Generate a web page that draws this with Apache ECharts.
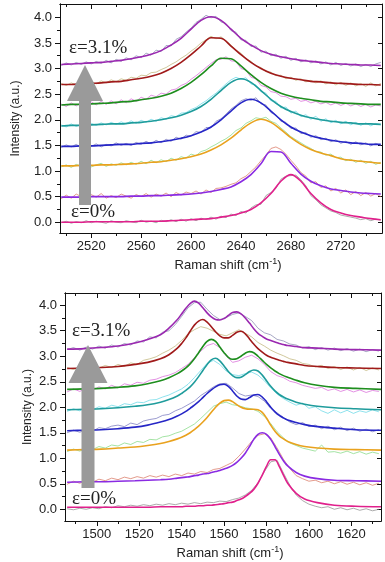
<!DOCTYPE html>
<html>
<head>
<meta charset="utf-8">
<script src="https://cdn.jsdelivr.net/npm/echarts@6/dist/echarts.min.js"></script>
<style>
html, body { margin: 0; padding: 0; background: #fff; }
#chart { width: 385px; height: 562px; }
</style>
</head>
<body>
<div id="chart"></div>
<script>
// ---- 2D band (upper panel) ----
var x2dFit = [2496,2504,2512,2520,2528,2536,2544,2552,2560,2568,2576,2584,2592,2600,2608,2616,2624,2632,2640,2648,2656,2664,2672,2680,2688,2696,2704,2712,2720,2728,2736,2744,2752];
var x2dRaw = [2496,2500,2504,2508,2512,2516,2520,2524,2528,2532,2536,2540,2544,2548,2552,2556,2560,2564,2568,2572,2576,2580,2584,2588,2592,2596,2600,2604,2608,2612,2616,2620,2624,2628,2632,2636,2640,2644,2648,2652,2656,2660,2664,2668,2672,2676,2680,2684,2688,2692,2696,2700,2704,2708,2712,2716,2720,2724,2728,2732,2736,2740,2744,2748,2752];

var fit2d0 = [0.00,0.00,0.00,0.01,0.01,0.01,0.01,0.01,0.02,0.02,0.02,0.03,0.04,0.05,0.06,0.07,0.10,0.13,0.18,0.25,0.38,0.56,0.80,0.93,0.80,0.56,0.38,0.25,0.18,0.13,0.10,0.07,0.05];
var fit2d1 = [0.49,0.49,0.49,0.50,0.50,0.50,0.50,0.51,0.51,0.52,0.52,0.53,0.54,0.55,0.57,0.60,0.64,0.69,0.79,0.93,1.14,1.38,1.37,1.15,0.94,0.80,0.71,0.65,0.62,0.59,0.57,0.56,0.55];
var fit2d2 = [1.10,1.10,1.11,1.11,1.12,1.12,1.13,1.14,1.15,1.17,1.18,1.21,1.24,1.28,1.33,1.41,1.51,1.64,1.80,1.94,2.01,1.95,1.81,1.65,1.52,1.42,1.35,1.30,1.24,1.21,1.19,1.17,1.15];
var fit2d3 = [1.48,1.48,1.49,1.49,1.50,1.51,1.52,1.52,1.54,1.55,1.57,1.60,1.64,1.69,1.76,1.86,2.00,2.17,2.33,2.40,2.33,2.17,2.00,1.86,1.76,1.69,1.64,1.60,1.57,1.55,1.54,1.52,1.52];
var fit2d4 = [1.88,1.89,1.89,1.90,1.91,1.92,1.92,1.94,1.95,1.97,2.00,2.04,2.09,2.16,2.26,2.40,2.57,2.73,2.80,2.73,2.57,2.40,2.26,2.16,2.09,2.04,2.00,1.97,1.95,1.94,1.92,1.92,1.91];
var fit2d5 = [2.29,2.30,2.30,2.31,2.32,2.33,2.35,2.36,2.39,2.42,2.46,2.52,2.61,2.73,2.88,3.05,3.20,3.19,3.05,2.88,2.73,2.61,2.52,2.46,2.42,2.39,2.36,2.35,2.33,2.32,2.31,2.30,2.30];
var fit2d6 = [2.69,2.69,2.70,2.71,2.72,2.74,2.75,2.78,2.81,2.85,2.91,3.00,3.12,3.27,3.44,3.60,3.59,3.44,3.27,3.12,3.00,2.91,2.85,2.81,2.78,2.75,2.74,2.72,2.71,2.70,2.69,2.69,2.68];
var fit2d7 = [3.08,3.09,3.10,3.11,3.12,3.14,3.16,3.19,3.23,3.28,3.35,3.46,3.59,3.77,3.94,4.01,3.94,3.77,3.59,3.46,3.35,3.28,3.23,3.19,3.16,3.14,3.12,3.10,3.09,3.08,3.07,3.07,3.06];

var raw2d0 = [-0.01,0.02,-0.02,0.01,-0.01,0.03,-0.01,0.02,0.00,-0.02,0.03,0.00,-0.01,0.03,0.01,-0.01,0.04,0.00,0.02,-0.01,0.04,0.01,0.05,0.01,0.06,0.02,0.07,0.03,0.08,0.05,0.10,0.06,0.12,0.09,0.16,0.13,0.21,0.18,0.28,0.34,0.35,0.52,0.58,0.66,0.84,0.90,0.91,0.92,0.83,0.71,0.52,0.44,0.34,0.28,0.22,0.19,0.14,0.12,0.10,0.08,0.05,0.07,0.03,0.06,0.04];
var raw2d1 = [0.46,0.53,0.47,0.55,0.50,0.45,0.54,0.49,0.56,0.47,0.52,0.48,0.55,0.51,0.47,0.54,0.50,0.56,0.49,0.55,0.51,0.57,0.50,0.58,0.53,0.59,0.56,0.61,0.55,0.63,0.58,0.66,0.67,0.70,0.74,0.77,0.85,0.90,0.99,1.08,1.20,1.31,1.44,1.47,1.42,1.33,1.21,1.10,0.97,0.90,0.77,0.79,0.68,0.71,0.61,0.66,0.57,0.63,0.54,0.60,0.52,0.58,0.51,0.56,0.50];
var raw2d2 = [1.08,1.12,1.07,1.13,1.09,1.14,1.08,1.12,1.15,1.09,1.14,1.11,1.16,1.12,1.17,1.13,1.19,1.14,1.21,1.16,1.22,1.18,1.25,1.21,1.28,1.25,1.33,1.30,1.38,1.41,1.47,1.52,1.58,1.63,1.70,1.79,1.84,1.93,1.98,2.04,2.02,2.05,1.97,1.93,1.84,1.76,1.67,1.61,1.55,1.49,1.44,1.38,1.37,1.31,1.33,1.26,1.27,1.20,1.23,1.17,1.21,1.15,1.19,1.13,1.17];
var raw2d3 = [1.46,1.51,1.47,1.52,1.46,1.51,1.48,1.53,1.47,1.52,1.49,1.55,1.50,1.54,1.50,1.56,1.52,1.58,1.53,1.60,1.55,1.62,1.58,1.66,1.62,1.70,1.68,1.77,1.75,1.85,1.84,1.97,2.02,2.11,2.21,2.28,2.37,2.41,2.38,2.43,2.31,2.29,2.14,2.10,1.97,1.95,1.83,1.84,1.73,1.75,1.66,1.69,1.61,1.64,1.57,1.61,1.54,1.58,1.52,1.57,1.51,1.55,1.49,1.54,1.50];
var raw2d4 = [1.90,1.86,1.92,1.87,1.91,1.88,1.93,1.89,1.94,1.90,1.95,1.91,1.96,1.92,1.98,1.93,1.99,1.95,2.01,1.97,2.04,2.01,2.08,2.06,2.13,2.14,2.20,2.24,2.31,2.37,2.45,2.52,2.61,2.70,2.78,2.83,2.79,2.82,2.70,2.68,2.55,2.52,2.37,2.36,2.23,2.25,2.13,2.17,2.06,2.10,2.01,2.07,1.97,2.02,1.94,1.99,1.92,1.97,1.90,1.95,1.89,1.94,1.88,1.93,1.90];
var raw2d5 = [2.31,2.26,2.33,2.27,2.34,2.28,2.35,2.29,2.36,2.30,2.37,2.31,2.39,2.33,2.41,2.36,2.44,2.40,2.48,2.45,2.52,2.50,2.58,2.60,2.67,2.71,2.79,2.86,2.94,3.02,3.10,3.17,3.18,3.23,3.15,3.14,3.00,2.97,2.83,2.80,2.67,2.64,2.55,2.53,2.46,2.45,2.40,2.42,2.36,2.38,2.33,2.36,2.31,2.34,2.29,2.33,2.28,2.32,2.27,2.31,2.26,2.30,2.25,2.29,2.27];
var raw2d6 = [2.71,2.67,2.72,2.68,2.73,2.69,2.74,2.70,2.76,2.72,2.78,2.74,2.80,2.77,2.83,2.81,2.87,2.86,2.92,2.93,2.98,3.02,3.08,3.13,3.20,3.26,3.34,3.41,3.50,3.56,3.63,3.58,3.62,3.54,3.46,3.36,3.30,3.19,3.14,3.05,3.02,2.94,2.93,2.86,2.87,2.80,2.83,2.77,2.80,2.74,2.77,2.72,2.76,2.70,2.74,2.68,2.73,2.67,2.72,2.66,2.71,2.65,2.72,2.66,2.71];
var raw2d7 = [3.06,3.11,3.07,3.12,3.08,3.13,3.09,3.14,3.10,3.16,3.11,3.18,3.14,3.21,3.17,3.25,3.21,3.30,3.26,3.36,3.33,3.45,3.44,3.57,3.62,3.71,3.79,3.90,3.96,4.04,3.99,4.02,3.91,3.88,3.74,3.71,3.56,3.55,3.43,3.44,3.32,3.34,3.25,3.28,3.20,3.24,3.16,3.20,3.13,3.17,3.11,3.15,3.09,3.13,3.07,3.12,3.06,3.10,3.05,3.09,3.04,3.08,3.04,3.09,3.12];

// ---- G band (lower panel) ----
var xGFit = [1486,1494,1502,1510,1518,1524,1530,1534,1538,1540,1542,1544,1546,1548,1550,1552,1554,1556,1558,1560,1562,1564,1566,1568,1570,1572,1574,1576,1578,1580,1582,1584,1586,1588,1590,1594,1598,1604,1612,1622,1634];
var xGRaw = [1486,1489,1492,1495,1498,1501,1504,1507,1510,1513,1516,1519,1522,1525,1528,1531,1534,1537,1540,1543,1546,1549,1552,1555,1558,1561,1564,1567,1570,1573,1576,1579,1582,1585,1588,1591,1594,1597,1600,1603,1606,1609,1612,1615,1618,1621,1624,1627,1630,1633];

var fitG0 = [0.04,0.04,0.04,0.04,0.04,0.04,0.05,0.05,0.05,0.05,0.06,0.06,0.06,0.07,0.07,0.08,0.08,0.09,0.10,0.11,0.13,0.14,0.17,0.20,0.25,0.31,0.39,0.51,0.67,0.84,0.97,0.97,0.84,0.67,0.51,0.31,0.20,0.13,0.08,0.06,0.05];
var fitG1 = [0.53,0.54,0.54,0.55,0.56,0.57,0.58,0.59,0.61,0.62,0.63,0.64,0.66,0.67,0.69,0.70,0.72,0.74,0.76,0.79,0.82,0.86,0.92,1.00,1.10,1.23,1.37,1.47,1.50,1.47,1.37,1.23,1.08,0.95,0.85,0.72,0.65,0.60,0.57,0.56,0.55];
var fitG2 = [1.16,1.17,1.18,1.20,1.22,1.25,1.29,1.33,1.38,1.41,1.45,1.50,1.56,1.63,1.71,1.80,1.90,2.00,2.08,2.13,2.14,2.11,2.05,2.00,1.97,1.96,1.96,1.95,1.90,1.79,1.65,1.53,1.44,1.38,1.33,1.27,1.23,1.20,1.18,1.17,1.16];
var fitG3 = [1.54,1.55,1.56,1.58,1.61,1.65,1.71,1.76,1.83,1.87,1.92,1.98,2.04,2.11,2.19,2.27,2.34,2.40,2.44,2.45,2.41,2.32,2.22,2.16,2.15,2.19,2.24,2.25,2.20,2.11,2.00,1.91,1.84,1.79,1.75,1.70,1.66,1.62,1.59,1.56,1.55];
var fitG4 = [1.95,1.96,1.97,1.99,2.02,2.05,2.10,2.15,2.22,2.27,2.33,2.40,2.49,2.60,2.72,2.84,2.93,2.96,2.91,2.81,2.70,2.62,2.58,2.59,2.64,2.70,2.73,2.71,2.63,2.52,2.41,2.32,2.25,2.20,2.16,2.10,2.06,2.02,1.99,1.97,1.95];
var fitG5 = [2.35,2.36,2.37,2.39,2.42,2.46,2.52,2.58,2.66,2.71,2.77,2.85,2.95,3.07,3.19,3.29,3.33,3.29,3.18,3.07,2.98,2.94,2.95,3.00,3.06,3.09,3.07,3.00,2.92,2.84,2.77,2.71,2.66,2.62,2.59,2.53,2.48,2.43,2.39,2.37,2.35];
var fitG6 = [2.76,2.77,2.78,2.80,2.84,2.88,2.95,3.03,3.16,3.25,3.36,3.49,3.61,3.69,3.72,3.67,3.58,3.48,3.40,3.36,3.36,3.41,3.47,3.49,3.44,3.34,3.24,3.15,3.08,3.02,2.98,2.95,2.92,2.90,2.88,2.85,2.82,2.80,2.78,2.77,2.76];
var fitG7 = [3.14,3.15,3.17,3.20,3.26,3.33,3.42,3.55,3.72,3.83,3.94,4.03,4.08,4.04,3.95,3.85,3.77,3.72,3.71,3.74,3.80,3.86,3.87,3.83,3.75,3.65,3.54,3.45,3.39,3.34,3.31,3.28,3.25,3.23,3.21,3.19,3.17,3.16,3.14,3.13,3.12];

var rawG0 = [0.01,-0.01,0.02,0.00,0.03,0.01,0.05,0.03,0.07,0.05,0.08,0.06,0.09,0.07,0.10,0.08,0.11,0.09,0.12,0.10,0.13,0.11,0.14,0.13,0.16,0.15,0.19,0.22,0.28,0.37,0.52,0.74,0.93,0.96,0.71,0.47,0.28,0.17,0.10,0.06,0.03,0.05,0.00,0.03,-0.01,0.02,-0.02,0.01,-0.03,0.00];
var rawG1 = [0.49,0.55,0.51,0.57,0.53,0.59,0.56,0.61,0.58,0.63,0.60,0.64,0.61,0.66,0.63,0.67,0.64,0.69,0.66,0.71,0.69,0.74,0.72,0.78,0.80,0.86,0.92,1.04,1.18,1.33,1.45,1.48,1.40,1.20,0.98,0.80,0.66,0.60,0.55,0.57,0.52,0.55,0.50,0.54,0.49,0.53,0.48,0.52,0.47,0.51];
var rawG2 = [1.13,1.18,1.14,1.20,1.17,1.23,1.20,1.26,1.24,1.30,1.27,1.33,1.31,1.37,1.36,1.42,1.44,1.49,1.53,1.60,1.67,1.78,1.90,2.02,2.07,2.10,2.05,2.03,1.99,1.97,1.92,1.82,1.68,1.52,1.40,1.30,1.25,1.20,1.17,1.14,1.26,1.12,1.13,1.10,1.14,1.09,1.13,1.08,1.12,1.09];
var rawG3 = [1.50,1.55,1.51,1.57,1.53,1.60,1.58,1.63,1.65,1.62,1.69,1.66,1.73,1.76,1.78,1.84,1.86,1.93,1.98,2.05,2.12,2.23,2.31,2.40,2.46,2.47,2.38,2.27,2.22,2.24,2.21,2.12,1.98,1.89,1.80,1.71,1.66,1.70,1.62,1.65,1.58,1.63,1.56,1.61,1.54,1.59,1.53,1.57,1.52,1.56];
var rawG4 = [1.92,1.97,1.93,1.99,1.95,2.01,1.98,2.04,2.01,2.07,2.05,2.10,2.09,2.14,2.15,2.20,2.24,2.30,2.36,2.45,2.58,2.72,2.86,2.92,2.84,2.71,2.64,2.62,2.66,2.69,2.63,2.52,2.38,2.26,2.17,2.10,2.04,2.08,1.98,2.01,1.93,1.88,1.95,1.89,1.94,1.88,1.93,1.90,1.95,1.91];
var rawG5 = [2.30,2.36,2.31,2.38,2.33,2.40,2.36,2.43,2.38,2.46,2.43,2.49,2.47,2.53,2.55,2.60,2.63,2.68,2.76,2.84,2.97,3.10,3.21,3.25,3.17,3.01,2.88,2.91,2.98,3.02,2.95,2.84,2.70,2.62,2.58,2.51,2.48,2.43,2.40,2.37,2.39,2.33,2.36,2.31,2.35,2.30,2.34,2.29,2.33,2.31];
var rawG6 = [2.78,2.74,2.79,2.75,2.81,2.77,2.82,2.78,2.84,2.80,2.87,2.84,2.92,2.95,2.99,3.06,3.12,3.20,3.31,3.44,3.52,3.58,3.55,3.49,3.43,3.40,3.46,3.52,3.45,3.38,3.27,3.20,3.12,3.06,3.01,2.95,2.92,2.86,2.84,2.79,2.82,2.76,2.80,2.74,2.79,2.73,2.78,2.72,2.77,2.73];
var rawG7 = [3.13,3.17,3.12,3.18,3.14,3.20,3.16,3.22,3.18,3.25,3.22,3.30,3.28,3.38,3.36,3.47,3.50,3.62,3.78,3.95,4.05,4.06,3.92,3.80,3.72,3.76,3.82,3.85,3.78,3.70,3.55,3.46,3.42,3.33,3.30,3.24,3.22,3.16,3.19,3.13,3.17,3.12,3.16,3.11,3.15,3.10,3.14,3.09,3.13,3.10];

// ---- ticks ----
var yMajor = [0, 0.5, 1, 1.5, 2, 2.5, 3, 3.5, 4];
var yMinor = [0.25, 0.75, 1.25, 1.75, 2.25, 2.75, 3.25, 3.75];
var x2dMajor = [2520, 2560, 2600, 2640, 2680, 2720];
var x2dMinor = [2500, 2540, 2580, 2620, 2660, 2700, 2740];
var xGMajor = [1500, 1520, 1540, 1560, 1580, 1600, 1620];
var xGMinor = [1490, 1510, 1530, 1550, 1570, 1590, 1610, 1630];

var rawColors = ['#8a8a8a', '#d8735f', '#80d880', '#7474bc', '#62d6e6', '#d866d8', '#bdb275', '#8585ad'];
var fitColors = ['#e0208c', '#8a2be2', '#e9a21e', '#2626c6', '#1f9c9c', '#1e8e1e', '#a01a1a', '#9a28b0'];

var sansFont = '"Liberation Sans", Arial, sans-serif';
var lineCol = '#111';

function pairs(xs, ys) {
	return xs.map(function (x, i) {
		return [x, ys[i]];
	});
}

function xAxes(grid, min, max, major, minor, nameGap) {
	var list = [];
	var defs = [
		{ pos: 'bottom', ticks: major, len: 5, inside: false, label: true },
		{ pos: 'bottom', ticks: minor, len: 3, inside: false, label: false },
		{ pos: 'top', ticks: major, len: 5, inside: true, label: false },
		{ pos: 'top', ticks: minor, len: 3, inside: true, label: false }
	];
	defs.forEach(function (d) {
		var ax = {
			gridIndex: grid,
			type: 'value',
			position: d.pos,
			min: min,
			max: max,
			splitLine: { show: false },
			axisLine: { show: true, onZero: false, lineStyle: { color: lineCol, width: 1 } },
			axisTick: { show: true, inside: d.inside, length: d.len, customValues: d.ticks, lineStyle: { color: lineCol, width: 1 } },
			axisLabel: { show: false }
		};
		if (d.label) {
			ax.axisLabel = {
				show: true, customValues: major, margin: 7, fontSize: 13, color: '#222', fontFamily: sansFont,
				formatter: function (v) { return String(v); }
			};
			ax.name = 'Raman shift (cm{sup|-1})';
			ax.nameLocation = 'middle';
			ax.nameGap = nameGap;
			ax.nameTextStyle = {
				fontSize: 13, color: '#222', fontFamily: sansFont, lineHeight: 16,
				padding: [0, 0, 0, 14],
				rich: { sup: { fontSize: 9, fontFamily: sansFont, color: '#222', verticalAlign: 'top', lineHeight: 6 } }
			};
		}
		list.push(ax);
	});
	return list;
}

function yAxes(grid, min, max, nameGap) {
	var list = [];
	var defs = [
		{ pos: 'left', ticks: yMajor, len: 5, inside: false, label: true },
		{ pos: 'left', ticks: yMinor, len: 3, inside: false, label: false },
		{ pos: 'right', ticks: yMajor, len: 4, inside: true, label: false }
	];
	defs.forEach(function (d) {
		var ax = {
			gridIndex: grid,
			type: 'value',
			position: d.pos,
			min: min,
			max: max,
			splitLine: { show: false },
			axisLine: { show: true, onZero: false, lineStyle: { color: lineCol, width: 1 } },
			axisTick: { show: true, inside: d.inside, length: d.len, customValues: d.ticks, lineStyle: { color: lineCol, width: 1 } },
			axisLabel: { show: false }
		};
		if (d.label) {
			ax.axisLabel = {
				show: true, customValues: yMajor, margin: 8, fontSize: 13, color: '#222', fontFamily: sansFont,
				formatter: function (v) { return v.toFixed(1); }
			};
			ax.name = 'Intensity (a.u.)';
			ax.nameLocation = 'middle';
			ax.nameGap = nameGap;
			ax.nameMoveOverlap = false;
			ax.nameTextStyle = { fontSize: 12, color: '#222', fontFamily: sansFont };
		}
		list.push(ax);
	});
	return list;
}

var series = [];

function addPanel(xRaw, raws, xFit, fits, xIdx, yIdx) {
	raws.forEach(function (ys, i) {
		series.push({
			type: 'line', xAxisIndex: xIdx, yAxisIndex: yIdx,
			data: pairs(xRaw, ys), symbol: 'none', silent: true, z: 2,
			lineStyle: { color: rawColors[i], width: 0.8, opacity: 0.9 }
		});
	});
	fits.forEach(function (ys, i) {
		series.push({
			type: 'line', xAxisIndex: xIdx, yAxisIndex: yIdx,
			data: pairs(xFit, ys), symbol: 'none', silent: true, z: 3, smooth: 0.35,
			lineStyle: { color: fitColors[i], width: 1.6 }
		});
	});
}

addPanel(x2dRaw, [raw2d0, raw2d1, raw2d2, raw2d3, raw2d4, raw2d5, raw2d6, raw2d7],
	x2dFit, [fit2d0, fit2d1, fit2d2, fit2d3, fit2d4, fit2d5, fit2d6, fit2d7], 0, 0);
addPanel(xGRaw, [rawG0, rawG1, rawG2, rawG3, rawG4, rawG5, rawG6, rawG7],
	xGFit, [fitG0, fitG1, fitG2, fitG3, fitG4, fitG5, fitG6, fitG7], 4, 3);

var arrowGray = '#9a9a9a';
var epsFont = '"Liberation Serif", "Times New Roman", serif';

var option = {
	animation: false,
	backgroundColor: '#fff',
	grid: [
		{ left: 60, top: 4, width: 322, height: 229 },
		{ left: 65, top: 293, width: 316, height: 229 }
	],
	xAxis: xAxes(0, 2495, 2753, x2dMajor, x2dMinor, 24).concat(xAxes(1, 1485, 1634, xGMajor, xGMinor, 24)),
	yAxis: yAxes(0, -0.21, 4.26, 38).concat(yAxes(1, -0.23, 4.24, 31)),
	series: series,
	graphic: [
		{
			type: 'polygon', z: 100,
			shape: { points: [[79, 205], [79, 101], [67, 101], [85, 65], [103, 101], [91, 101], [91, 205]] },
			style: { fill: arrowGray }
		},
		{
			type: 'polygon', z: 100,
			shape: { points: [[81.5, 488], [81.5, 383], [68.5, 383], [88, 345], [107.5, 383], [94.5, 383], [94.5, 488]] },
			style: { fill: arrowGray }
		},
		{ type: 'text', z: 100, left: 69, top: 39, style: { text: 'ε=3.1%', fontSize: 19, fontFamily: epsFont, fill: '#222' } },
		{ type: 'text', z: 100, left: 71, top: 203, style: { text: 'ε=0%', fontSize: 19, fontFamily: epsFont, fill: '#222' } },
		{ type: 'text', z: 100, left: 72, top: 322, style: { text: 'ε=3.1%', fontSize: 19, fontFamily: epsFont, fill: '#222' } },
		{ type: 'text', z: 100, left: 72, top: 490, style: { text: 'ε=0%', fontSize: 19, fontFamily: epsFont, fill: '#222' } }
	]
};

var chart = echarts.init(document.getElementById('chart'));
chart.setOption(option);
</script>
</body>
</html>
